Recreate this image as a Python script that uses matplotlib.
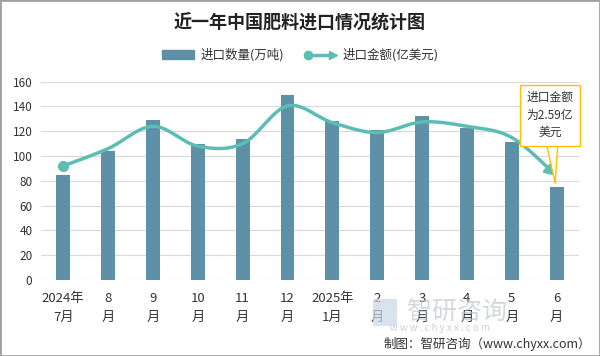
"""近一年中国肥料进口情况统计图: bars (quantity) + smoothed line (value)."""
import matplotlib as mpl
mpl.use("Agg")
import matplotlib.pyplot as plt
import numpy as np
from matplotlib.patches import Patch, Rectangle
from matplotlib.lines import Line2D
from matplotlib.legend_handler import HandlerBase

plt.rcParams['font.family'] = ['Noto Sans CJK SC', 'DejaVu Sans']

# ── data ──
months = ['2024年\n7月', '8\n月', '9\n月', '10\n月', '11\n月', '12\n月',
          '2025年\n1月', '2\n月', '3\n月', '4\n月', '5\n月', '6\n月']
qty = [85, 104, 129, 110, 114, 149, 128.5, 121, 132.5, 123, 111, 75]      # 万吨
value = [92, 106, 124, 108, 110, 140.5, 127, 119, 127.5, 124, 115, 84]    # scaled line
yticks = [0, 20, 40, 60, 80, 100, 120, 140, 160]

BAR_C = '#5E90A7'
LINE_C = '#5BBDB4'
TXT_C = '#333333'


def catmull_rom(xs, ys, n=24):
    xs, ys = np.asarray(xs, float), np.asarray(ys, float)
    px = np.r_[xs[0], xs, xs[-1]]
    py = np.r_[ys[0], ys, ys[-1]]
    ox, oy = [], []
    for i in range(1, len(px) - 2):
        t = np.linspace(0, 1, n, endpoint=False)
        for p, out in ((px, ox), (py, oy)):
            p0, p1, p2, p3 = p[i - 1], p[i], p[i + 1], p[i + 2]
            out.extend(0.5 * ((2 * p1) + (-p0 + p2) * t +
                              (2 * p0 - 5 * p1 + 4 * p2 - p3) * t ** 2 +
                              (-p0 + 3 * p1 - 3 * p2 + p3) * t ** 3))
    ox.append(xs[-1]); oy.append(ys[-1])
    return np.array(ox), np.array(oy)


class ArrowLineHandler(HandlerBase):
    def create_artists(self, legend, orig, xd, yd, w, h, fs, trans):
        y = h / 2 - yd
        x0, x1 = -xd, w - xd
        ln = Line2D([x0 + 3, x1 - 3], [y, y], color=LINE_C, lw=2.5, transform=trans)
        dot = Line2D([x0 + 3], [y], marker='o', ms=6, color=LINE_C, transform=trans)
        head = Line2D([x1 - 2], [y], marker='>', ms=6, color=LINE_C, transform=trans)
        return [ln, dot, head]


fig = plt.figure(figsize=(6, 3.56), dpi=100)
ax = fig.add_axes([0.068, 0.2135, 0.897, 0.557])

x = np.arange(len(months))
ax.bar(x, qty, width=0.31, color=BAR_C, zorder=2)

sx, sy = catmull_rom(x, value)
ax.plot(sx[:-4], sy[:-4], color=LINE_C, lw=2.5, zorder=3, solid_capstyle='round')
ax.annotate('', xy=(sx[-1], sy[-1]), xytext=(sx[-5], sy[-5]),
            arrowprops=dict(arrowstyle='-|>,head_length=0.6,head_width=0.35',
                            color=LINE_C, lw=2.5, shrinkA=0, shrinkB=0), zorder=3)
ax.plot(x[0], value[0], 'o', ms=7, color=LINE_C, zorder=4)

ax.set_xlim(-0.5, len(months) - 0.5)
ax.set_ylim(0, 160)
ax.set_yticks(yticks)
ax.set_xticks(x)
ax.set_xticklabels(months, fontsize=9.5, color=TXT_C, linespacing=1.55)
ax.tick_params(axis='y', length=0, labelsize=8.5, labelcolor=TXT_C, pad=6)
ax.tick_params(axis='x', length=0, pad=9)
ax.grid(axis='y', color='#D9D9D9', lw=0.8, zorder=0)
for s in ax.spines.values():
    s.set_visible(False)

# callout for last point
ax.annotate('进口金额\n为2.59亿\n美元', xy=(x[-1] - 0.03, value[-1] - 6),
            xytext=(x[-1] - 0.15, 133), ha='center', va='center',
            fontsize=8.5, color=TXT_C, linespacing=1.45,
            bbox=dict(boxstyle='square,pad=0.55', fc='white', ec='#FFC000', lw=1),
            arrowprops=dict(arrowstyle='wedge,tail_width=0.9,shrink_factor=0.5',
                            fc='white', ec='#FFC000', lw=1, shrinkA=0, shrinkB=0),
            zorder=5)

fig.text(0.5, 0.935, '近一年中国肥料进口情况统计图', ha='center', va='center',
         fontsize=13, fontweight='bold', color='#222222')
fig.legend(handles=[Patch(color=BAR_C, label='进口数量(万吨)'),
                    Line2D([], [], color=LINE_C, label='进口金额(亿美元)')],
           handler_map={Line2D: ArrowLineHandler()},
           loc='center', bbox_to_anchor=(0.5, 0.845), ncol=2, frameon=False,
           fontsize=9, handlelength=2.6, handleheight=0.7, columnspacing=1.6,
           handletextpad=0.5, labelcolor=TXT_C)

# watermark and source
fig.patches.append(Rectangle((0.622, 0.085), 0.04, 0.075, transform=fig.transFigure,
                             fc='#C9D6E6', ec='none', alpha=0.7, zorder=0))
fig.text(0.762, 0.124, '智研咨询', ha='center', va='center', fontsize=18,
         color='#B8BEC8', alpha=0.6, zorder=0)
fig.text(0.733, 0.078, 'w w w . c h y x x . c o m', ha='center', va='center',
         fontsize=7, color='#B8BEC8', alpha=0.7)
fig.text(0.985, 0.033, '制图：智研咨询（www.chyxx.com）', ha='right', va='center',
         fontsize=9, color=TXT_C)

fig.patches.append(Rectangle((0, 0), 1, 1, transform=fig.transFigure, fill=False,
                             ec='#A0A0A0', lw=2))

fig.savefig('out.png', dpi=100, facecolor='white')
